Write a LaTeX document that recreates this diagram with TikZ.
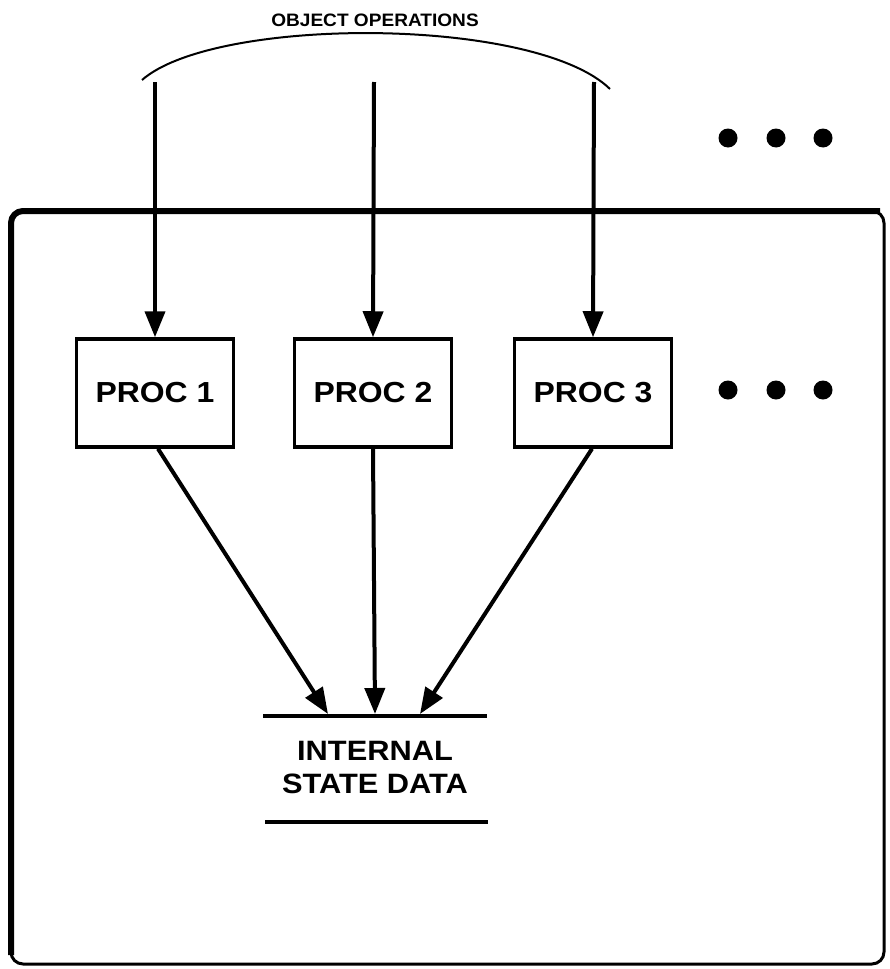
\documentclass[tikz,border=0pt]{standalone}
\usepackage{fontspec}
\setmainfont{Liberation Sans}
\newfontfamily\boxfont[FakeStretch=1.1]{Liberation Sans Bold}
\newfontfamily\toplabelfont[FakeStretch=1.06]{Liberation Sans Bold}
\usetikzlibrary{arrows.meta,calc}
\begin{document}
\begin{tikzpicture}[x=1pt,y=-1pt,
  procbox/.style={draw,line width=3.5pt,minimum width=157pt,minimum height=108pt,inner sep=0pt,font=\boxfont\fontsize{29}{31}\selectfont},
  conn/.style={line width=4pt,-{Triangle[length=26pt,width=20pt]}},
  dotmark/.style={fill=black},
  datalabel/.style={align=center,font=\boxfont\fontsize{28}{33}\selectfont,inner sep=0pt}]
\useasboundingbox (0,0) rectangle (889,969);
% outer object boundary
\draw[line width=3pt,rounded corners=12pt] (11,964) -- (11,211) -- (884,211) -- (884,964) -- cycle;
\draw[line width=6pt,rounded corners=12pt] (11,955) -- (11,211) -- (880,211);
% title and brace arc
\node[font=\toplabelfont\fontsize{18}{20}\selectfont,inner sep=0pt] (title) at (375,20) {OBJECT OPERATIONS};
\draw[line width=2pt] (142,80) .. controls (215,16) and (535,16) .. (610,89);
% procedure boxes
\node[procbox] (p1) at (155,393) {PROC 1};
\node[procbox] (p2) at (373,393) {PROC 2};
\node[procbox] (p3) at (593,393) {PROC 3};
% incoming operations
\coordinate (t1) at (155,82);
\coordinate (t2) at (374,82);
\coordinate (t3) at (594,82);
\draw[conn] (t1) -- (p1.north);
\draw[conn] (t2) -- (p2.north);
\draw[conn] (t3) -- (p3.north);
% internal state data
\node[datalabel] (data) at (375,767) {INTERNAL\\STATE DATA};
\coordinate (l1a) at (263,716);
\coordinate (l1b) at (487,716);
\coordinate (l2a) at (265,822);
\coordinate (l2b) at (488,822);
\draw[line width=4pt] (l1a) -- (l1b);
\draw[line width=4pt] (l2a) -- (l2b);
\coordinate (d1) at (328,714);
\coordinate (d2) at (375,714);
\coordinate (d3) at (420,714);
\draw[conn] ($(p1.south)+(3,0)$) -- (d1);
\draw[conn] (p2.south) -- (d2);
\draw[conn] ($(p3.south)+(-1,0)$) -- (d3);
% ellipsis dots
\foreach \i/\xx in {1/728,2/776,3/823}{
  \fill[dotmark] (\xx,138) circle[radius=9.5] coordinate (ua\i);
  \fill[dotmark] (\xx,390) circle[radius=9.5] coordinate (ub\i);
}
\end{tikzpicture}
\end{document}
